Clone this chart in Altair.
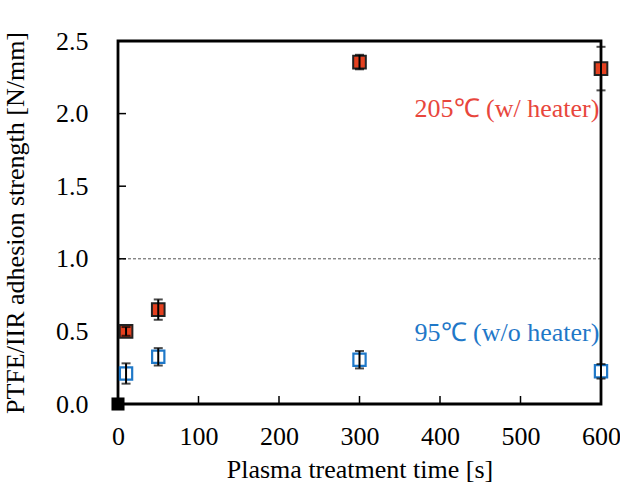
import altair as alt
import pandas as pd

time_s = [10, 50, 300, 600]
hot_mean = [0.50, 0.65, 2.355, 2.31]
hot_err = [0.03, 0.07, 0.05, 0.15]
cold_mean = [0.21, 0.325, 0.305, 0.225]
cold_err = [0.07, 0.06, 0.06, 0.05]
x_ticks = [100, 200, 300, 400, 500, 600]
y_ticks = [0.5, 1.0, 1.5, 2.0, 2.5]

W, H = 483, 363
FONT = "Liberation Serif"
FS = 26

hot = pd.DataFrame({"t": time_s, "v": hot_mean,
                    "lo": [m - e for m, e in zip(hot_mean, hot_err)],
                    "hi": [m + e for m, e in zip(hot_mean, hot_err)]})
cold = pd.DataFrame({"t": time_s, "v": cold_mean,
                     "lo": [m - e for m, e in zip(cold_mean, cold_err)],
                     "hi": [m + e for m, e in zip(cold_mean, cold_err)]})
both = pd.concat([hot, cold])

xs = alt.Scale(domain=[0, 600], nice=False)
ys = alt.Scale(domain=[0, 2.5], nice=False)

xax = alt.Axis(values=[0] + x_ticks, title="Plasma treatment time [s]", labelPadding=19,
               titlePadding=7, labelFlush=False, labelFont=FONT, titleFont=FONT,
               labelFontSize=FS, titleFontSize=FS, tickSize=0, domain=False, grid=False)
yax = alt.Axis(values=[0] + y_ticks, format=".1f", title="PTFE/IIR adhesion strength [N/mm]",
               labelPadding=30, titlePadding=27, labelFlush=False, labelFont=FONT, titleFont=FONT,
               labelFontSize=FS, titleFontSize=FS, tickSize=0, domain=False, grid=False)

X = lambda f: alt.X(f, scale=xs, axis=xax)
Y = lambda f: alt.Y(f, scale=ys, axis=yax)

base_axes = alt.Chart(pd.DataFrame({"t": [0], "v": [0]})).mark_point(opacity=0).encode(
    x=X("t:Q"), y=Y("v:Q"))

frame = alt.Chart(pd.DataFrame({"a": [0]})).mark_rect(
    fill=None, stroke="black", strokeWidth=2.8).encode(
    x=alt.value(0), x2=alt.value(W), y=alt.value(0), y2=alt.value(H))

ref = alt.Chart(pd.DataFrame({"v": [1.0]})).mark_rule(
    color="#555", strokeDash=[3, 2], strokeWidth=1).encode(y=Y("v:Q"))

xt = alt.Chart(pd.DataFrame({"t": x_ticks})).mark_rule(color="black", strokeWidth=1.5).encode(
    x=X("t:Q"), y=alt.value(H), y2=alt.value(H - 8))
yt = alt.Chart(pd.DataFrame({"v": y_ticks})).mark_rule(color="black", strokeWidth=1.5).encode(
    y=Y("v:Q"), x=alt.value(0), x2=alt.value(8))

hot_pts = alt.Chart(hot).mark_square(size=160, color="#E4401F", stroke="#222",
                                     strokeWidth=2, opacity=1).encode(x=X("t:Q"), y=Y("v:Q"))
cold_pts = alt.Chart(cold).mark_square(size=150, fill="white", stroke="#1F78C8",
                                       strokeWidth=2.2, opacity=1, filled=True).encode(x=X("t:Q"), y=Y("v:Q"))

err = alt.Chart(both).mark_rule(color="black", strokeWidth=2).encode(
    x=X("t:Q"), y=Y("lo:Q"), y2="hi:Q")
cap_lo = alt.Chart(both).mark_tick(color="black", thickness=2, size=9, orient="horizontal").encode(
    x=X("t:Q"), y=Y("lo:Q"))
cap_hi = alt.Chart(both).mark_tick(color="black", thickness=2, size=9, orient="horizontal").encode(
    x=X("t:Q"), y=Y("hi:Q"))

origin = alt.Chart(pd.DataFrame({"t": [0], "v": [0.0]})).mark_square(
    size=170, color="black", opacity=1).encode(x=X("t:Q"), y=Y("v:Q"))

labels = pd.DataFrame({"t": [598, 598], "v": [2.03, 0.49],
                       "txt": ["205℃ (w/ heater)", "95℃ (w/o heater)"],
                       "c": ["#E8463C", "#1F78C8"]})
txt = alt.Chart(labels).mark_text(align="right", baseline="middle", font=FONT, fontSize=26).encode(
    x=X("t:Q"), y=Y("v:Q"), text="txt:N", color=alt.Color("c:N", scale=None))

chart = alt.layer(base_axes, ref, xt, yt, frame, hot_pts, cold_pts, err, cap_lo, cap_hi, origin, txt).properties(
    width=W, height=H,
    padding={"left": 118, "top": 41, "right": 19, "bottom": 81},
    autosize=alt.AutoSizeParams(type="none"),
).configure_view(stroke=None).configure(background="white", font=FONT).configure_axis(
    tickSize=0, domain=False, grid=False, labelFlush=False,
    labelFont=FONT, labelFontSize=FS, labelColor="black",
    titleFont=FONT, titleFontSize=FS, titleFontWeight="normal", titleColor="black",
)

chart.save("out.html", embed_options={"renderer": "svg", "actions": False})
